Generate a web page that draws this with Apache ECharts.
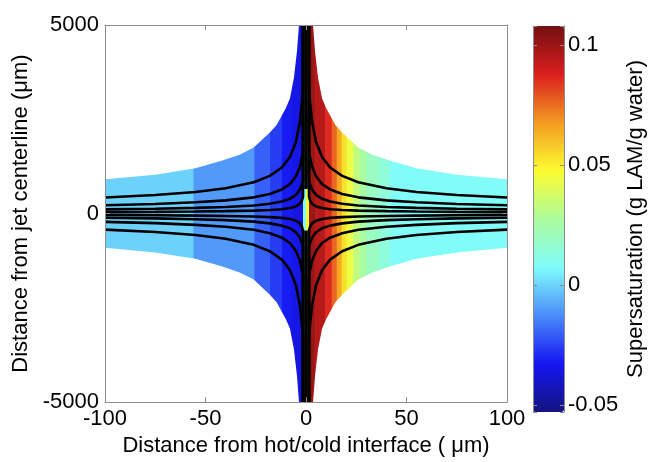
<!DOCTYPE html>
<html style="height: 100%">
<head>
    <meta charset="utf-8">
    <script type="text/javascript" src="https://cdn.jsdelivr.net/npm/echarts/dist/echarts.min.js"></script>
</head>
<body style="height: 100%; margin: 0; background: #fff">
<div id="container" style="width: 649px; height: 462px"></div>
<script type="text/javascript">
    // colour bands of the field, x in um
    var bandFrom  = [-100, -56, -25.7, -17.9, -12, -7, -3, -1.5, 0, 1.5, 4.5, 9.5, 12.8, 15.3, 17.7, 20.2, 23.5, 26.9, 30.2, 36, 41.8];
    var bandTo    = [-56, -25.7, -17.9, -12, -7, -3, -1.5, 0, 1.5, 4.5, 9.5, 12.8, 15.3, 17.7, 20.2, 23.5, 26.9, 30.2, 36, 41.8, 100];
    var bandValue = [0, -0.010, -0.020, -0.026, -0.032, -0.035, -0.037, 0.012, 0.045, 0.100, 0.095, 0.086, 0.076, 0.065, 0.053, 0.044, 0.0325, 0.026, 0.0196, 0.0147, 0.0083];

    // edge of the computed region (|x|, |y|)
    var edgeX = [0, 3.5, 4.5, 6, 8, 10, 14.6, 18, 26, 33, 42, 55, 75, 100];
    var edgeY = [5000, 5000, 4300, 3600, 3050, 2800, 2350, 2150, 1750, 1560, 1400, 1200, 1030, 910];

    // contour lines, one quadrant (|x|, |y|), mirrored to the others
    var lineX = [1.5, 1.5, 2, 3, 5, 8, 12, 18, 26, 40, 55, 75, 100];
    var lineA = [5000, 3300, 2950, 2450, 1900, 1500, 1220, 1000, 830, 670, 570, 490, 425];
    var lineB = [5000, 1650, 1500, 1250, 990, 780, 640, 520, 430, 350, 300, 255, 220];
    var lineC = [5000, 880, 780, 640, 495, 390, 320, 260, 215, 174, 150, 128, 110];
    var lineD = [5000, 450, 350, 260, 190, 145, 115, 94, 78, 63, 54, 45, 38];
    var stemTop = [650, 5000];
    var stemBottom = [-450, -5000];

    var xTicks = {min: -100, max: 100, interval: 50};
    var yTicks = {min: -5000, max: 5000, interval: 5000};
    var cbMin = -0.0528;
    var cbMax = 0.108;
    var jetColors = ['#141480', '#1616f2', '#4a8cf8', '#80fcfc', '#acfc9c', '#fcfc30', '#f49a22', '#da1e1e', '#741010'];

    var fontName = 'Liberation Sans';
    var dom = document.getElementById("container");
    var myChart = echarts.init(dom, null, {renderer: 'canvas'});
    option = null;

    function bandData() {
        var data = [];
        for (var i = 0; i < bandFrom.length; i++) {
            data.push([bandFrom[i], bandTo[i], bandValue[i]]);
        }
        return data;
    }

    function renderBand(params, api) {
        var p0 = api.coord([api.value(0), yTicks.max]);
        var p1 = api.coord([api.value(1), yTicks.min]);
        return {
            type: 'rect',
            shape: {x: p0[0], y: p0[1], width: p1[0] - p0[0] + 0.6, height: p1[1] - p0[1]},
            style: {fill: api.visual('color')}
        };
    }

    function maskData(sign) {
        var data = [];
        for (var i = edgeX.length - 1; i >= 0; i--) {
            data.push([-edgeX[i], sign * edgeY[i]]);
        }
        for (var j = 0; j < edgeX.length; j++) {
            data.push([edgeX[j], sign * edgeY[j]]);
        }
        return data;
    }

    function lineSeries(ys, sx, sy) {
        var data = [];
        for (var i = 0; i < lineX.length; i++) {
            data.push([sx * lineX[i], sy * ys[i]]);
        }
        return {
            type: 'line', data: data, showSymbol: false, silent: true, z: 4,
            lineStyle: {color: '#000', width: 2.6}
        };
    }

    var series = [{
        type: 'custom',
        renderItem: renderBand,
        data: bandData(),
        encode: {x: [0, 1]},
        z: 1,
        silent: true
    }, {
        type: 'line', data: maskData(1), showSymbol: false, silent: true, z: 2,
        lineStyle: {width: 0, opacity: 0},
        areaStyle: {color: '#fff', opacity: 1, origin: 'end'}
    }, {
        type: 'line', data: maskData(-1), showSymbol: false, silent: true, z: 2,
        lineStyle: {width: 0, opacity: 0},
        areaStyle: {color: '#fff', opacity: 1, origin: 'start'}
    }];

    var levels = [lineA, lineB, lineC, lineD];
    for (var k = 0; k < levels.length; k++) {
        series.push(lineSeries(levels[k], 1, 1));
        series.push(lineSeries(levels[k], -1, 1));
        series.push(lineSeries(levels[k], 1, -1));
        series.push(lineSeries(levels[k], -1, -1));
    }
    series.push({
        type: 'line', data: [[0, stemTop[0]], [0, stemTop[1]]], showSymbol: false, silent: true, z: 4,
        lineStyle: {color: '#000', width: 3.6}
    });
    series.push({
        type: 'line', data: [[0, stemBottom[0]], [0, stemBottom[1]]], showSymbol: false, silent: true, z: 4,
        lineStyle: {color: '#000', width: 3.6}
    });

    var frameLine = {show: true, onZero: false, lineStyle: {color: '#8c8c8c', width: 1}};
    var innerTick = {show: true, inside: true, length: 5, lineStyle: {color: '#8c8c8c'}};
    var labelStyle = {color: '#000', fontFamily: fontName, fontSize: 22};

    function cbLabel(v) {
        var r = v / 0.05;
        if (Math.abs(r - Math.round(r)) > 1e-6) {
            return '';
        }
        return String(Math.round(r) * 5 / 100);
    }

    function plainLabel(v) {
        return String(v);
    }

    option = {
        animation: false,
        backgroundColor: '#fff',
        grid: [
            {left: 105, right: 142, top: 25, bottom: 53, show: false},
            {left: 533, width: 31, top: 26, height: 386, show: false}
        ],
        xAxis: [{
            gridIndex: 0, type: 'value', position: 'bottom',
            min: xTicks.min, max: xTicks.max, interval: xTicks.interval, z: 10,
            axisLine: frameLine, axisTick: innerTick, splitLine: {show: false},
            axisLabel: {color: '#000', fontFamily: fontName, fontSize: 22, margin: 6, formatter: plainLabel},
            name: 'Distance from hot/cold interface ( \u03bcm)',
            nameLocation: 'middle', nameGap: 31,
            nameTextStyle: labelStyle
        }, {
            gridIndex: 0, type: 'value', position: 'top',
            min: xTicks.min, max: xTicks.max, interval: xTicks.interval, z: 10,
            axisLine: frameLine, axisTick: innerTick, splitLine: {show: false},
            axisLabel: {show: false}
        }, {
            gridIndex: 1, type: 'value', min: 0, max: 1, show: false
        }],
        yAxis: [{
            gridIndex: 0, type: 'value', position: 'left',
            min: yTicks.min, max: yTicks.max, interval: yTicks.interval, z: 10,
            axisLine: frameLine, axisTick: innerTick, splitLine: {show: false},
            axisLabel: {color: '#000', fontFamily: fontName, fontSize: 22, margin: 6, formatter: plainLabel},
            name: 'Distance from jet centerline (\u03bcm)',
            nameLocation: 'middle', nameGap: 70, nameRotate: 90,
            nameTextStyle: labelStyle
        }, {
            gridIndex: 0, type: 'value', position: 'right',
            min: yTicks.min, max: yTicks.max, interval: yTicks.interval, z: 10,
            axisLine: frameLine, axisTick: innerTick, splitLine: {show: false},
            axisLabel: {show: false}
        }, {
            gridIndex: 1, type: 'value', position: 'right',
            min: cbMin, max: cbMax, splitNumber: 3, z: 10,
            axisLine: frameLine, axisTick: {show: true, inside: true, length: 4, lineStyle: {color: '#8c8c8c'}},
            splitLine: {show: false},
            axisLabel: {color: '#000', fontFamily: fontName, fontSize: 22, margin: 4, formatter: cbLabel},
            name: 'Supersaturation (g LAM/g water)',
            nameLocation: 'middle', nameGap: 61, nameRotate: 90,
            nameTextStyle: labelStyle
        }, {
            gridIndex: 1, type: 'value', position: 'left',
            min: cbMin, max: cbMax, splitNumber: 3, z: 10,
            axisLine: frameLine, axisTick: {show: true, inside: true, length: 4, lineStyle: {color: '#8c8c8c'}},
            splitLine: {show: false}, axisLabel: {show: false}
        }],
        visualMap: {
            type: 'continuous', min: cbMin, max: cbMax,
            seriesIndex: 0, dimension: 2,
            calculable: false, show: true,
            left: 533, top: 26, itemWidth: 31, itemHeight: 386, padding: 0,
            inRange: {color: jetColors}
        },
        series: series
    };

    if (option && typeof option === "object") {
        myChart.setOption(option, true);
    }
</script>
</body>
</html>
